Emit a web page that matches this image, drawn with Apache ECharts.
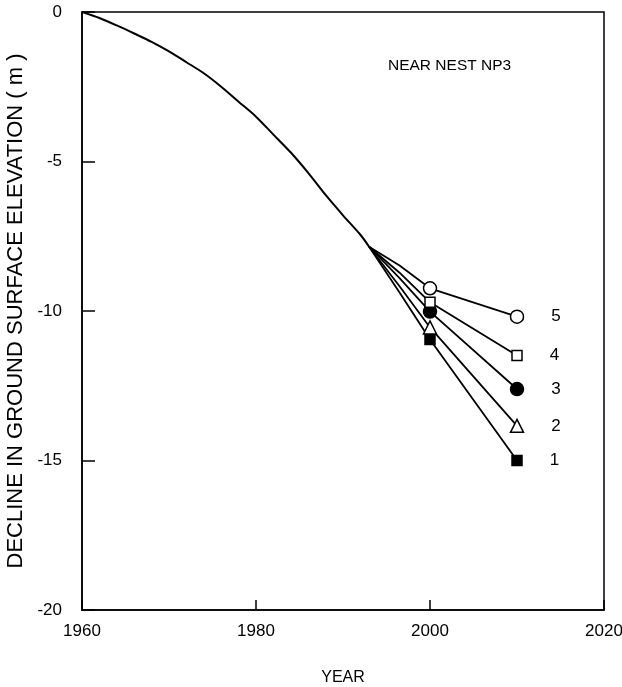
<!DOCTYPE html>
<html>
<head>
<meta charset="utf-8">
<script src="https://cdn.jsdelivr.net/npm/echarts@6/dist/echarts.min.js"></script>
<style>
  body { margin: 0; background: #fff; }
  #chart { width: 622px; height: 687px; }
</style>
</head>
<body>
<div id="chart"></div>
<script>
// main decline curve (m)
const years = [1960, 1962, 1964, 1966, 1968, 1970, 1972, 1974, 1976, 1978, 1980, 1982, 1984, 1986, 1988, 1990, 1992, 1993];
const mainDecline = [0, -0.2, -0.45, -0.72, -1.0, -1.32, -1.68, -2.05, -2.5, -3.0, -3.5, -4.1, -4.7, -5.38, -6.12, -6.8, -7.45, -7.85];

// the five scenarios branch off in 1993
const branchYears = [1993, 1996.5, 2000, 2010];
const scenario1 = [-7.85, -9.38, -10.95, -15.0];
const scenario2 = [-7.85, -9.17, -10.55, -13.84];
const scenario3 = [-7.85, -8.9, -10.02, -12.61];
const scenario4 = [-7.85, -8.72, -9.71, -11.49];
const scenario5 = [-7.85, -8.48, -9.24, -10.19];

const xTicks = { min: 1960, max: 2020, interval: 20 };
const yTicks = { min: -20, max: 0, interval: 5 };

const font = "Liberation Sans";

function branchSeries(name, values, symbol, filled, size) {
  const data = branchYears.map((year, i) => {
    const item = { value: [year, values[i]] };
    if (i < 2) item.symbol = "none";
    if (i == branchYears.length - 1) {
      item.label = { show: true };
    }
    return item;
  });
  return {
    name: name,
    type: "line",
    data: data,
    symbol: symbol,
    symbolSize: size,
    showAllSymbol: true,
    lineStyle: { color: "#000", width: 1.8 },
    itemStyle: {
      color: filled ? "#000" : "#fff",
      borderColor: "#000",
      borderWidth: 1.5,
    },
    label: {
      show: false,
      position: "right",
      distance: 27,
      formatter: name,
      fontFamily: font,
      fontSize: 17,
      color: "#000",
    },
    z: 3,
  };
}

const chart = echarts.init(document.getElementById("chart"));
chart.setOption({
  animation: false,
  backgroundColor: "#fff",
  title: {
    text: "NEAR NEST NP3",
    left: 383,
    top: 53,
    textStyle: { fontFamily: font, fontSize: 15.5, fontWeight: "normal", color: "#000" },
  },
  grid: {
    left: 82,
    right: 18,
    top: 12,
    bottom: 77,
    outerBoundsMode: "none",
    show: true,
    borderColor: "#000",
    borderWidth: 1.5,
  },
  xAxis: {
    type: "value",
    min: xTicks.min,
    max: xTicks.max,
    interval: xTicks.interval,
    name: "YEAR",
    nameLocation: "middle",
    nameGap: 60,
    nameTextStyle: { fontFamily: font, fontSize: 16, color: "#000" },
    axisLine: { show: true, onZero: false, lineStyle: { color: "#000", width: 1.5 } },
    axisTick: { show: true, inside: true, length: 10, lineStyle: { color: "#000", width: 1.5 } },
    axisLabel: {
      fontFamily: font,
      fontSize: 17,
      color: "#000",
      margin: 13,
      formatter: (v) => String(v),
    },
    splitLine: { show: false },
  },
  yAxis: {
    type: "value",
    min: yTicks.min,
    max: yTicks.max,
    interval: yTicks.interval,
    name: "DECLINE IN GROUND SURFACE ELEVATION ( m )",
    nameLocation: "middle",
    nameGap: 44,
    nameTextStyle: { fontFamily: font, fontSize: 22, color: "#000" },
    axisLine: { show: true, onZero: false, lineStyle: { color: "#000", width: 1.5 } },
    axisTick: { show: true, inside: true, length: 13, lineStyle: { color: "#000", width: 1.5 } },
    axisLabel: { fontFamily: font, fontSize: 17, color: "#000", margin: 20 },
    splitLine: { show: false },
  },
  series: [
    {
      name: "main",
      type: "line",
      data: years.map((year, i) => [year, mainDecline[i]]),
      smooth: 0.3,
      symbol: "none",
      lineStyle: { color: "#000", width: 2 },
    },
    branchSeries("1", scenario1, "rect", true, 10),
    branchSeries("2", scenario2, "triangle", false, 13),
    branchSeries("3", scenario3, "circle", true, 13),
    branchSeries("4", scenario4, "rect", false, 10),
    branchSeries("5", scenario5, "circle", false, 13),
  ],
});
</script>
</body>
</html>
